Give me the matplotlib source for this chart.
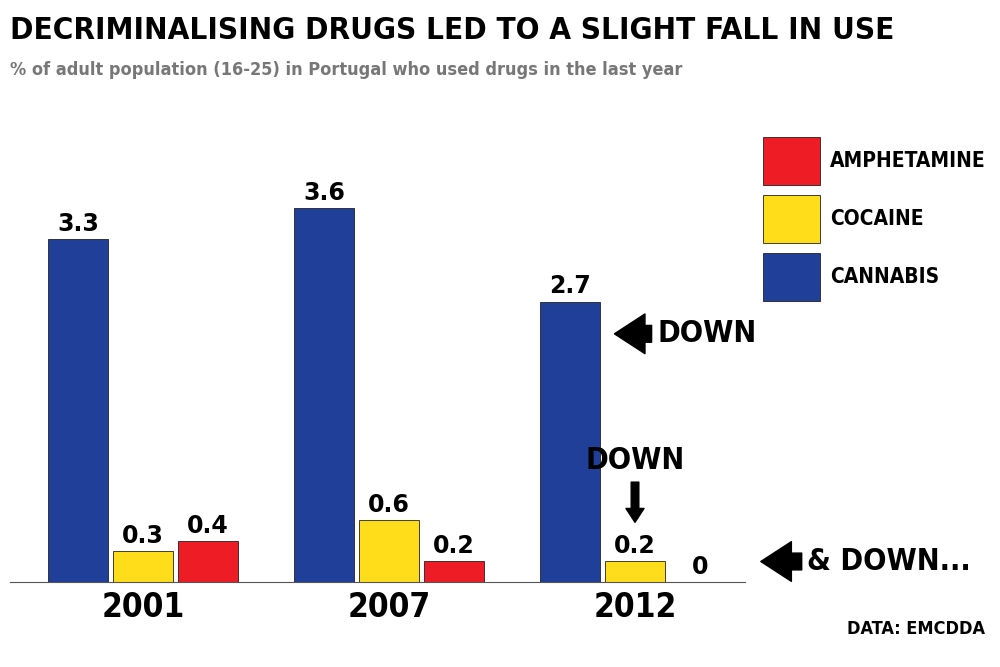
import matplotlib.pyplot as plt
import numpy as np
from matplotlib.patches import Rectangle

years = ['2001', '2007', '2012']
drugs = ['CANNABIS', 'COCAINE', 'AMPHETAMINE']
cannabis = [3.3, 3.6, 2.7]
cocaine = [0.3, 0.6, 0.2]
amphetamine = [0.4, 0.2, 0]
colors = ['#1f3f99', '#ffdd1a', '#ee1c25']

narrow = dict(family='DejaVu Sans', stretch='condensed', fontweight='bold')


def drawBars(ax, x, values, offset, color):
  bars = ax.bar(x + offset, values, 0.244, color=color, edgecolor='#222222', linewidth=0.6)
  for b, v in zip(bars, values):
    ax.text(b.get_x() + b.get_width()/2, v + 0.03, str(v) if v else '0', ha='center', va='bottom',
            fontsize=17, fontweight='bold', family='DejaVu Sans')


def drawLegend(fig):
  names = ['AMPHETAMINE', 'COCAINE', 'CANNABIS']
  cols = [colors[2], colors[1], colors[0]]
  for i in range(3):
    y = 1 - (185 + 58*i)/667.
    fig.add_artist(Rectangle((0.763, y), 0.057, 48/667., transform=fig.transFigure,
                             facecolor=cols[i], edgecolor='#222222', linewidth=0.6))
    fig.text(0.830, y + 24/667., names[i], va='center', fontsize=15, **narrow)


def main():
  fig = plt.figure(figsize=(10, 6.67), dpi=100)
  ax = fig.add_axes([0.01, 0.127, 0.735, 0.717])
  x = np.arange(len(years))
  drawBars(ax, x, cannabis, -0.264, colors[0])
  drawBars(ax, x, cocaine, 0, colors[1])
  drawBars(ax, x, amphetamine, 0.264, colors[2])
  ax.set_xlim(-0.54, 2.447)
  ax.set_ylim(0, 4.6)
  ax.set_xticks(x)
  ax.set_xticklabels(years, fontsize=24, **narrow)
  ax.tick_params(axis='x', length=0, pad=6)
  ax.set_yticks([])
  for s in ['top', 'left', 'right']:
    ax.spines[s].set_visible(False)
  ax.spines['bottom'].set_color('#555555')

  arrow = dict(arrowstyle='simple,head_width=1.3,head_length=1.0,tail_width=0.55', color='black')
  ax.annotate('DOWN', xy=(1.905, 2.39), xytext=(2.09, 2.39), va='center', fontsize=22,
              arrowprops=arrow, **narrow)
  ax.annotate('', xy=(2.0, 0.55), xytext=(2.0, 0.99), arrowprops=arrow)
  ax.text(2.0, 1.03, 'DOWN', ha='center', va='bottom', fontsize=22, **narrow)
  ax.annotate('& DOWN...', xy=(2.5, 0.2), xytext=(2.7, 0.2), va='center', fontsize=22,
              arrowprops=arrow, annotation_clip=False, **narrow)

  drawLegend(fig)
  fig.text(0.01, 0.955, 'DECRIMINALISING DRUGS LED TO A SLIGHT FALL IN USE', fontsize=22.5,
           va='center', **narrow)
  fig.text(0.01, 0.895, '% of adult population (16-25) in Portugal who used drugs in the last year',
           fontsize=13, color='#777777', va='center', **narrow)
  fig.text(0.985, 0.05, 'DATA: EMCDDA', ha='right', fontsize=13, **narrow)
  plt.savefig('out.png', dpi=100)


if __name__=='__main__':
  main()
